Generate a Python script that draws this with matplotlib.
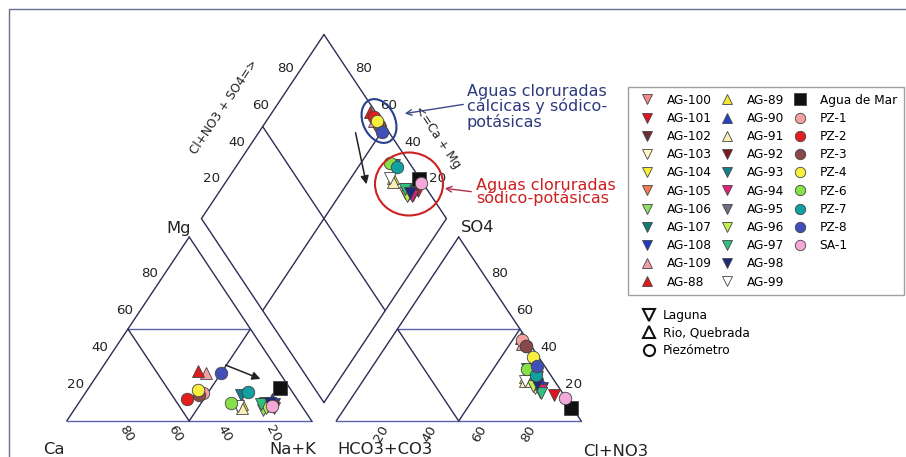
import numpy as np
import matplotlib.pyplot as plt
import matplotlib.transforms as mtransforms
from matplotlib.lines import Line2D
from matplotlib.patches import Ellipse, Rectangle

# muestras, en el orden de la leyenda
names = ['AG-100', 'AG-101', 'AG-102', 'AG-103', 'AG-104', 'AG-105', 'AG-106', 'AG-107',
         'AG-108', 'AG-109', 'AG-88',
         'AG-89', 'AG-90', 'AG-91', 'AG-92', 'AG-93', 'AG-94', 'AG-95', 'AG-96', 'AG-97',
         'AG-98', 'AG-99',
         'Agua de Mar', 'PZ-1', 'PZ-2', 'PZ-3', 'PZ-4', 'PZ-6', 'PZ-7', 'PZ-8', 'SA-1']
markers = ['v', 'v', 'v', 'v', 'v', 'v', 'v', 'v', 'v', '^', '^',
           '^', '^', '^', 'v', 'v', 'v', 'v', 'v', 'v', 'v', 'v',
           's', 'o', 'o', 'o', 'o', 'o', 'o', 'o', 'o']
colors = ['#f28a8a', '#e0141e', '#6b2f35', '#fdf8c0', '#f8f030', '#f47a50', '#8ee060', '#127a72',
          '#2438c8', '#f2a0a8', '#e01a1a',
          '#f5e834', '#2440c0', '#fbf0b8', '#7a1a20', '#10808c', '#e0207a', '#6e6e7e', '#c0f050',
          '#30c080', '#202878', '#ffffff',
          '#111111', '#f4a0a0', '#e41e1e', '#8a4848', '#f8f040', '#88e048', '#10a0a0', '#4050b8',
          '#f4a8d8']

# cationes (% meq)
ca = [14, 12, 15, 16, 13, 12, 17, 14, 11, 30, 33,
      24, 10, 25, 13, 22, 12, 14, 15, 16, 12, 26,
      4, 37, 45, 39, 38, 28, 18, 24, 12]
mg = [8, 7, 9, 8, 9, 10, 6, 10, 9, 26, 27,
      9, 12, 7, 8, 14, 8, 9, 7, 9, 10, 8,
      18, 15, 12, 14, 17, 10, 16, 26, 8]
# aniones (% meq)
hco3 = [8, 4, 8, 10, 9, 6, 9, 8, 7, 3, 2,
        11, 6, 12, 7, 7, 8, 9, 10, 9, 8, 12,
        0.5, 2, 2, 2, 2, 8, 6, 3, 0.5]
so4 = [22, 14, 26, 18, 20, 24, 16, 28, 18, 42, 45,
       24, 21, 22, 25, 24, 17, 23, 19, 15, 20, 22,
       7, 44, 41, 41, 35, 28, 25, 30, 12.5]

ca = np.array(ca, float)
mg = np.array(mg, float)
nak = 100 - ca - mg
hco3 = np.array(hco3, float)
so4 = np.array(so4, float)
cl = 100 - hco3 - so4

ticks = [20, 40, 60, 80]

GAP = 0.1
H = np.sqrt(3) / 2
EDGE = '#2b2d55'
INNER = '#5b63a8'

fig = plt.figure(figsize=(9.06, 4.57), dpi=100)
ax = fig.add_axes([0, 0, 1, 1])
ax.set_xlim(-0.2722, 3.4257)
ax.set_ylim(-0.1694, 1.9812)
ax.axis('off')
# pixel coordinates (origin top-left) for decorations
pix = mtransforms.Affine2D().scale(1 / 906, -1 / 457).translate(0, 1) + fig.transFigure


def seg(p, q, color=EDGE, lw=1.0):
    ax.plot([p[0], q[0]], [p[1], q[1]], color=color, lw=lw, solid_capstyle='round', zorder=1)


# outline: cation triangle
seg((0, 0), (1, 0), INNER)
seg((0, 0), (0.5, H))
seg((1, 0), (0.5, H))
seg((0.25, H / 2), (0.75, H / 2), INNER)
seg((0.25, H / 2), (0.5, 0))
seg((0.5, 0), (0.75, H / 2))
# anion triangle
x0 = 1 + GAP
seg((x0, 0), (x0 + 1, 0), INNER)
seg((x0, 0), (x0 + 0.5, H))
seg((x0 + 1, 0), (x0 + 0.5, H))
seg((x0 + 0.25, H / 2), (x0 + 0.75, H / 2), INNER)
seg((x0 + 0.25, H / 2), (x0 + 0.5, 0))
seg((x0 + 0.5, 0), (x0 + 0.75, H / 2))
# diamond
B = np.array([1 + GAP / 2, GAP * H])
L = np.array([0.5 + GAP / 2, H + GAP * H])
T = np.array([1 + GAP / 2, 2 * H + GAP * H])
R = np.array([1.5 + GAP / 2, H + GAP * H])
for p, q in [(B, L), (L, T), (T, R), (R, B)]:
    seg(p, q)
seg((L + T) / 2, (R + B) / 2)
seg((B + L) / 2, (T + R) / 2)

# tick labels
tk = dict(fontsize=9.6, color='#222222', textcoords='offset points')
for v in ticks:
    f = v / 100
    ax.annotate(str(v), (f / 2, f * H), xytext=(-5, 0), ha='right', va='center', **tk)
    ax.annotate(str(v), (1 - f, 0), xytext=(8, -9), ha='center', va='center',
                rotation=-60, rotation_mode='anchor', **tk)
    ax.annotate(str(v), (x0 + 1 - f / 2, f * H), xytext=(6, 0), ha='left', va='center', **tk)
    ax.annotate(str(v), (x0 + f, 0), xytext=(-3, -9), ha='center', va='center',
                rotation=60, rotation_mode='anchor', **tk)
    ax.annotate(str(v), L + f * (T - L), xytext=(-4, 2), ha='right', va='center', **tk)
    ax.annotate(str(v), R + f * (T - R), xytext=(5, 2), ha='left', va='center', **tk)

lab = dict(fontsize=11.8, color='#222222', transform=pix, ha='center', va='center')
ax.text(179, 228, 'Mg', **lab)
ax.text(54, 450, 'Ca', **lab)
ax.text(293, 450, 'Na+K', **lab)
ax.text(478, 227, 'SO4', **lab)
ax.text(385, 450, 'HCO3+CO3', **lab)
ax.text(616, 451, 'Cl+NO3', **lab)
ax.text(224, 107, 'Cl+NO3 + SO4=>', fontsize=8.7, rotation=56, transform=pix,
        ha='center', va='center', color='#222222')
ax.text(438, 137, '<=Ca + Mg', fontsize=8.7, rotation=-56, transform=pix,
        ha='center', va='center', color='#222222')

# data points
for i in range(len(names)):
    c_tot = ca[i] + mg[i] + nak[i]
    a_tot = hco3[i] + so4[i] + cl[i]
    m, n = mg[i] / c_tot, nak[i] / c_tot
    s, c = so4[i] / a_tot, cl[i] / a_tot
    xs = [n + m / 2, x0 + c + s / 2]
    ys = [m * H, s * H]
    A = s + c
    C = 1 - n
    xs.append(B[0] + 0.5 * (A - C))
    ys.append(B[1] + H * (A + C))
    ms = 10.5 if markers[i] == 's' else 9
    ax.plot(xs, ys, ls='none', marker=markers[i], ms=ms, mfc=colors[i], mec='#444444',
            mew=0.6, zorder=3)

# annotations
ax.add_patch(Ellipse((379, 121), 32, 46, angle=-25, transform=pix, fill=False,
                     ec='#2a3f8f', lw=1.5, zorder=4))
ax.add_patch(Ellipse((409, 184), 68, 63, transform=pix, fill=False,
                     ec='#cc2222', lw=1.5, zorder=4))
ax.annotate('', xy=(402, 114), xytext=(466, 104), xycoords=pix, textcoords=pix,
            arrowprops=dict(arrowstyle='->', color='#3a4a8a', lw=1.0))
ax.annotate('', xy=(442, 188), xytext=(474, 192), xycoords=pix, textcoords=pix,
            arrowprops=dict(arrowstyle='->', color='#b03050', lw=1.0))
ax.annotate('', xy=(367, 187), xytext=(355, 130), xycoords=pix, textcoords=pix,
            arrowprops=dict(arrowstyle='-|>', color='#222222', lw=1.1, mutation_scale=12))
ax.annotate('', xy=(263, 380), xytext=(223, 364), xycoords=pix, textcoords=pix,
            arrowprops=dict(arrowstyle='-|>', color='#222222', lw=1.1, mutation_scale=12))
ax.text(467, 107, 'Aguas cloruradas\ncálcicas y sódico-\npotásicas', transform=pix,
        fontsize=11.5, color='#2c3a7c', ha='left', va='center', linespacing=0.95)
ax.text(476, 192, 'Aguas cloruradas\nsódico-potásicas', transform=pix,
        fontsize=11.5, color='#cc2020', ha='left', va='center', linespacing=0.8)

# frame
ax.add_patch(Rectangle((9, 9), 1000, 1000, transform=pix, fill=False, ec='#6a6e90', lw=1.0))

# legends
handles = [Line2D([], [], ls='none', marker=mk, ms=7.5 if mk != 's' else 9, mfc=col,
                  mec='#444444', mew=0.6) for mk, col in zip(markers, colors)]
labels = list(names)
handles += [Line2D([], [], ls='none')] * 2
labels += ['', '']
leg = ax.legend(handles, labels, ncol=3, loc='upper left',
                bbox_to_anchor=(628 / 906, 1 - 87 / 457), bbox_transform=fig.transFigure,
                fontsize=8.7, frameon=True, fancybox=False, edgecolor='#888888',
                borderpad=0.55, labelspacing=0.43, handlelength=2.1, handletextpad=0.6,
                columnspacing=0.2, borderaxespad=0)
leg.get_frame().set_linewidth(1.0)
ax.add_artist(leg)

types = [Line2D([], [], ls='none', marker='v', ms=8, mfc='none', mec='#111111', mew=1.5),
         Line2D([], [], ls='none', marker='^', ms=8, mfc='none', mec='#111111', mew=1.5),
         Line2D([], [], ls='none', marker='o', ms=8, mfc='none', mec='#111111', mew=1.5)]
ax.legend(types, ['Laguna', 'Rio, Quebrada', 'Piezómetro'], loc='upper left',
          bbox_to_anchor=(641 / 906, 1 - 309 / 457), bbox_transform=fig.transFigure,
          fontsize=8.7, frameon=False, borderpad=0, labelspacing=0.38, handlelength=1.4,
          handletextpad=0.4, borderaxespad=0)

fig.savefig('out.png', dpi=100)
